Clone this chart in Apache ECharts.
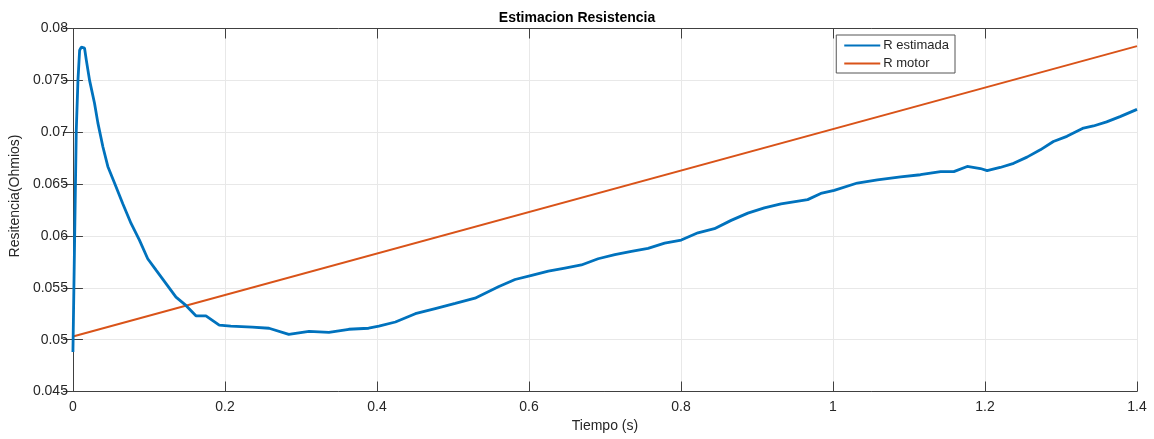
<!DOCTYPE html>
<html>
<head>
<meta charset="utf-8">
<script src="https://cdn.jsdelivr.net/npm/echarts@6/dist/echarts.min.js"></script>
<style>
  html, body { margin: 0; padding: 0; background: #fff; }
  #chart { width: 1154px; height: 439px; }
</style>
</head>
<body>
<div id="chart"></div>
<script>
// Time samples (s) and estimated resistance (Ohm)
const tiempo = [0, 0.0022, 0.0044, 0.0066, 0.0088, 0.011, 0.0153, 0.0175, 0.0219, 0.0284,
  0.0328, 0.0394, 0.0459, 0.0547, 0.0656, 0.0765, 0.0875, 0.0984, 0.1094, 0.1225,
  0.1356, 0.1487, 0.1618, 0.175, 0.1925, 0.2077, 0.236, 0.258, 0.284, 0.3106,
  0.3368, 0.363, 0.389, 0.4025, 0.4243, 0.4505, 0.4767, 0.503, 0.529, 0.5598,
  0.5817, 0.6036, 0.6255, 0.6473, 0.669, 0.691, 0.713, 0.7348, 0.7567, 0.7785,
  0.8004, 0.8223, 0.844, 0.866, 0.888, 0.9097, 0.9316, 0.9667, 0.984, 1.0016,
  1.032, 1.0585, 1.089, 1.115, 1.1416, 1.159, 1.1766, 1.194, 1.2028, 1.22,
  1.2377, 1.2553, 1.2728, 1.29, 1.3078, 1.3296, 1.3427, 1.36, 1.3777, 1.4];
const rEstimada = [0.0488, 0.0596, 0.0702, 0.0750, 0.0779, 0.0782, 0.0781, 0.0770, 0.0750, 0.0728,
  0.0709, 0.0686, 0.0667, 0.0651, 0.0631, 0.0612, 0.0596, 0.0578, 0.0567, 0.0554,
  0.0541, 0.0533, 0.0523, 0.0523, 0.0514, 0.0513, 0.0512, 0.0511, 0.0505, 0.0508,
  0.0507, 0.0510, 0.0511, 0.0513, 0.0517, 0.0525, 0.0530, 0.0535, 0.0540, 0.0551,
  0.0558, 0.0562, 0.0566, 0.0569, 0.0572, 0.0578, 0.0582, 0.0585, 0.0588, 0.0593,
  0.0596, 0.0603, 0.0607, 0.0615, 0.0622, 0.0627, 0.0631, 0.0635, 0.0641, 0.0644,
  0.0651, 0.0654, 0.0657, 0.0659, 0.0662, 0.0662, 0.0667, 0.0665, 0.0663, 0.0666,
  0.0670, 0.0676, 0.0683, 0.0691, 0.0696, 0.0704, 0.0706, 0.0710, 0.0715, 0.0722];

// Motor resistance: straight line between the two ends of the run
const tiempoMotor = [0, 1.4];
const rMotor = [0.0503, 0.0783];

const seriesNames = ['R estimada', 'R motor'];
const titulo = 'Estimacion Resistencia';
const ejeX = 'Tiempo (s)';
const ejeY = 'Resitencia(Ohmios)';

const pairs = (xs, ys) => xs.map((x, i) => [x, ys[i]]);

const FONT = '"Liberation Sans", Arial, sans-serif';
const AXIS = '#404040';
const TXT = '#262626';
const GRID = '#e8e8e8';

const chart = echarts.init(document.getElementById('chart'), null, { renderer: 'canvas' });

const xBase = { type: 'value', min: 0, max: 1.4, interval: 0.2 };
const yBase = { type: 'value', min: 0.045, max: 0.08, interval: 0.005 };

chart.setOption({
  backgroundColor: '#ffffff',
  animation: false,
  textStyle: { fontFamily: FONT },
  title: {
    text: titulo, left: 'center', top: 6,
    textStyle: { fontFamily: FONT, fontSize: 14, fontWeight: 'bold', color: '#000' }
  },
  grid: { left: 70, right: 17, top: 28.5, bottom: 47.5, containLabel: false },
  legend: {
    right: 199, top: 35, orient: 'vertical',
    itemWidth: 36, itemHeight: 2, itemGap: 5,
    padding: [4, 6, 3, 8],
    borderColor: '#555', borderWidth: 1, borderRadius: 0,
    backgroundColor: '#fff',
    icon: 'rect',
    textStyle: { fontFamily: FONT, fontSize: 13, color: TXT, padding: [0, 0, 0, -2] },
    data: seriesNames
  },
  xAxis: [
    Object.assign({}, xBase, {
      position: 'bottom',
      name: ejeX, nameLocation: 'middle', nameGap: 28,
      nameTextStyle: { fontFamily: FONT, fontSize: 14, color: TXT },
      axisLine: { show: true, lineStyle: { color: AXIS, width: 1 } },
      axisTick: { show: true, inside: true, length: 10, lineStyle: { color: AXIS } },
      axisLabel: { fontFamily: FONT, fontSize: 14, color: TXT, margin: 9,
        formatter: v => String(+v.toFixed(1)) },
      splitLine: { show: true, lineStyle: { color: GRID, width: 1 } }
    }),
    Object.assign({}, xBase, {
      position: 'top',
      axisLine: { show: true, lineStyle: { color: AXIS, width: 1 } },
      axisTick: { show: true, inside: true, length: 10, lineStyle: { color: AXIS } },
      axisLabel: { show: false },
      splitLine: { show: false }
    })
  ],
  yAxis: [
    Object.assign({}, yBase, {
      position: 'left',
      name: ejeY, nameLocation: 'middle', nameGap: 48,
      nameTextStyle: { fontFamily: FONT, fontSize: 14, color: TXT, padding: [0, 0, 0, 28] },
      axisLine: { show: true, lineStyle: { color: AXIS, width: 1 } },
      axisTick: { show: true, inside: true, length: 10, lineStyle: { color: AXIS } },
      axisLabel: { fontFamily: FONT, fontSize: 14, color: TXT, margin: 5,
        formatter: v => String(+v.toFixed(3)) },
      splitLine: { show: true, lineStyle: { color: GRID, width: 1 } }
    }),
    Object.assign({}, yBase, {
      position: 'right',
      axisLine: { show: true, lineStyle: { color: AXIS, width: 1 } },
      axisTick: { show: true, inside: true, length: 10, lineStyle: { color: AXIS } },
      axisLabel: { show: false },
      splitLine: { show: false }
    })
  ],
  series: [
    {
      name: seriesNames[0], type: 'line', xAxisIndex: 0, yAxisIndex: 0,
      data: pairs(tiempo, rEstimada),
      showSymbol: false, symbol: 'none',
      lineStyle: { color: '#0072BD', width: 2.8 },
      itemStyle: { color: '#0072BD' },
      z: 3
    },
    {
      name: seriesNames[1], type: 'line', xAxisIndex: 0, yAxisIndex: 0,
      data: pairs(tiempoMotor, rMotor),
      showSymbol: false, symbol: 'none',
      lineStyle: { color: '#D95319', width: 2 },
      itemStyle: { color: '#D95319' },
      z: 2
    }
  ]
});
</script>
</body>
</html>
